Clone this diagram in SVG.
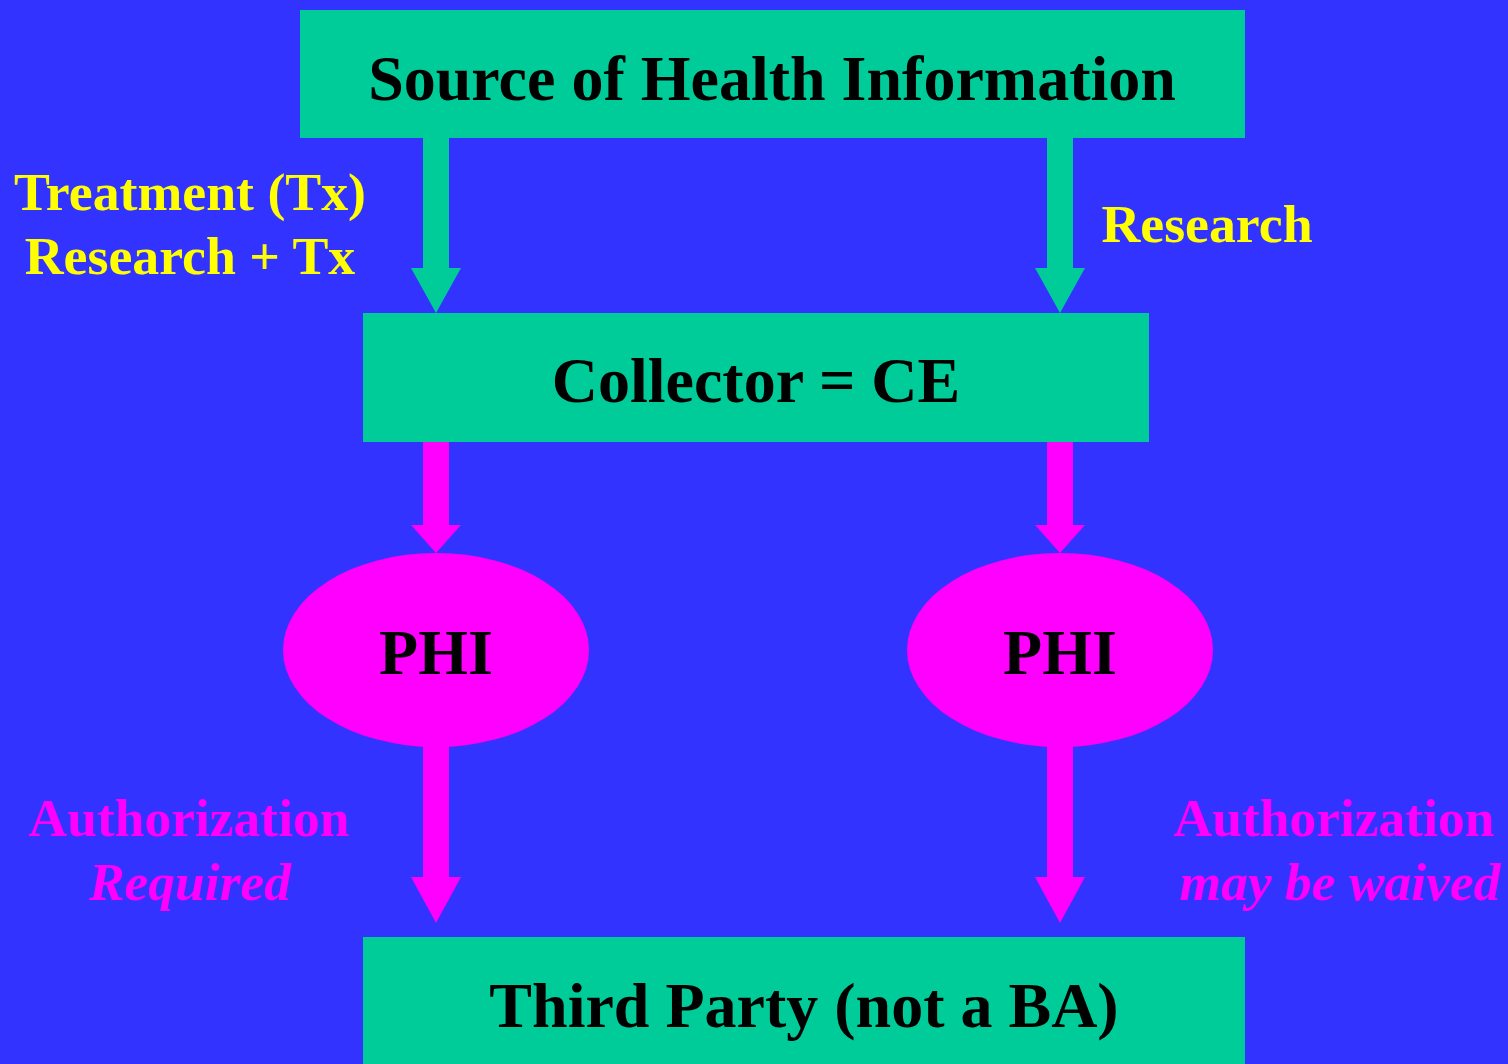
<svg xmlns="http://www.w3.org/2000/svg" width="1508" height="1064" viewBox="0 0 1508 1064">
<style>
.box{fill:#00CC99}
.ell{fill:#FF00FF}
.t{font-family:"Liberation Serif","Times New Roman",serif;font-weight:bold;text-anchor:middle}
.nt{font-size:64px;fill:#000}
.yl{font-size:53.8px;fill:#FFFF00}
.pl{font-size:53.5px;fill:#FF00FF}
.it{font-style:italic}
.ta{fill:#00CC99}
.pa{fill:#FF00FF}
</style>
<rect width="1508" height="1064" fill="#3333FF"/>
<g id="connectors">
<polygon class="ta" points="423,138 449,138 449,268 461,268 436,313 411,268 423,268"/>
<polygon class="ta" points="1047,138 1073,138 1073,268 1085,268 1060,313 1035,268 1047,268"/>
<polygon class="pa" points="423,442 449,442 449,525 461,525 436,553 411,525 423,525"/>
<polygon class="pa" points="1047,442 1073,442 1073,525 1085,525 1060,553 1035,525 1047,525"/>
<polygon class="pa" points="423,740 449,740 449,877 461,877 436,923 411,877 423,877"/>
<polygon class="pa" points="1047,740 1073,740 1073,877 1085,877 1060,923 1035,877 1047,877"/>
<text class="t yl" x="190" y="210">Treatment (Tx)</text>
<text class="t yl" x="190" y="274">Research + Tx</text>
<text class="t yl" x="1207" y="242">Research</text>
<text class="t pl" x="189" y="836">Authorization</text>
<text class="t pl it" x="190" y="900">Required</text>
<text class="t pl" x="1334" y="836">Authorization</text>
<text class="t pl it" x="1340" y="900">may be waived</text>
</g>
<g id="source">
<rect class="box" x="300" y="10" width="945" height="128"/>
<text class="t nt" x="772" y="100">Source of Health Information</text>
</g>
<g id="collector">
<rect class="box" x="363" y="313" width="786" height="129"/>
<text class="t nt" x="756" y="402">Collector = CE</text>
</g>
<g id="phi1">
<ellipse class="ell" cx="436" cy="650" rx="153" ry="97"/>
<text class="t nt" x="436" y="674">PHI</text>
</g>
<g id="phi2">
<ellipse class="ell" cx="1060" cy="650" rx="153" ry="97"/>
<text class="t nt" x="1060" y="674">PHI</text>
</g>
<g id="thirdparty">
<rect class="box" x="363" y="937" width="882" height="127"/>
<text class="t nt" x="804" y="1027">Third Party (not a BA)</text>
</g>
</svg>
